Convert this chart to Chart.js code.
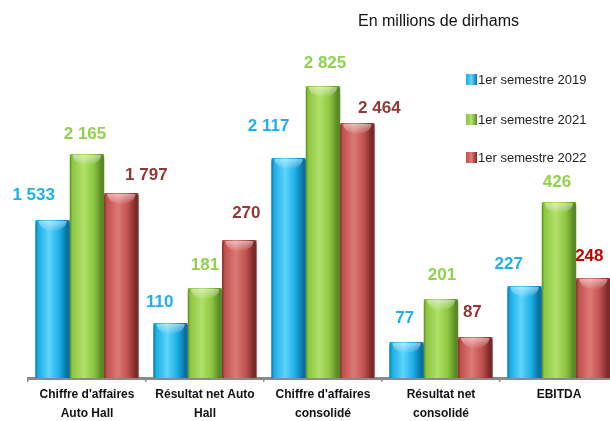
<!DOCTYPE html>
<html>
<head>
    <title>Auto Hall - chiffres clés</title>
    <script src="https://cdn.jsdelivr.net/npm/chart.js"></script>
    <style>
        html, body {
            margin: 0;
            padding: 0;
            background: #ffffff;
            overflow: hidden;
            width: 610px;
            height: 421px;
        }
        #wrap {
            position: relative;
            width: 630px;
            height: 421px;
        }
    </style>
</head>
<body>
    <div id="wrap"><canvas id="chart" width="630" height="421"></canvas></div>

    <script>
        const categories = [
            ["Chiffre d'affaires", "Auto Hall"],
            ["Résultat net Auto", "Hall"],
            ["Chiffre d'affaires", "consolidé"],
            ["Résultat net", "consolidé"],
            ["EBITDA"]
        ];
        const seriesNames = ['1er semestre 2019', '1er semestre 2021', '1er semestre 2022'];
        const values2019 = [1533, 110, 2117, 77, 227];
        const values2021 = [2165, 181, 2825, 201, 426];
        const values2022 = [1797, 270, 2464, 87, 248];
        // bar heights as drawn in the picture (the source does not use one common scale)
        const heights2019 = [158, 55, 220, 36, 92];
        const heights2021 = [224, 90, 292, 79, 176];
        const heights2022 = [185, 138, 255, 41, 100];

        const values = [values2019, values2021, values2022];

        const palette = [
            { dark: '#0a6f9e', base: '#19ade6', light: '#5fd4fa' },
            { dark: '#5a8a27', base: '#8cc63f', light: '#b0e06a' },
            { dark: '#7a2a28', base: '#c0504d', light: '#dc7a76' }
        ];
        const labelColors = ['#1db0ea', '#92d050', '#953735'];

        // hand-placed label nudges relative to the top centre of each bar
        const nudges = [
            [[-19, -25], [-11, -21], [-20, -32], [-2, -24], [-16, -22]],
            [[-2, -20], [0, -23], [2, -23], [1, -24], [-2, -20]],
            [[25, -18], [7, -27], [22, -15], [-3, -25], [-4, -22]]
        ];

        function fmt(v) {
            return String(v).replace(/\B(?=(\d{3})+(?!\d))/g, ' ');
        }

        const barStyle = {
            id: 'barStyle',
            afterDatasetsDraw(chart) {
                const ctx = chart.ctx;
                ctx.save();
                chart.data.datasets.forEach((ds, i) => {
                    const c = palette[i];
                    chart.getDatasetMeta(i).data.forEach((bar, j) => {
                        const l = bar.x - bar.width / 2;
                        const r = bar.x + bar.width / 2;
                        const t = bar.y;
                        const b = bar.base;
                        const w = r - l;
                        // body
                        const g = ctx.createLinearGradient(l, 0, r, 0);
                        g.addColorStop(0, c.dark);
                        g.addColorStop(0.07, c.base);
                        g.addColorStop(0.4, c.light);
                        g.addColorStop(0.7, c.base);
                        g.addColorStop(0.92, c.dark);
                        g.addColorStop(1, c.dark);
                        ctx.fillStyle = g;
                        ctx.beginPath();
                        ctx.roundRect(l, t, w, b - t, [4, 4, 0, 0]);
                        ctx.fill();
                        // top cap
                        const cap = ctx.createLinearGradient(0, t, 0, t + 12);
                        cap.addColorStop(0, 'rgba(255,255,255,0.55)');
                        cap.addColorStop(1, 'rgba(255,255,255,0)');
                        ctx.fillStyle = cap;
                        ctx.beginPath();
                        ctx.moveTo(l + 3, t + 1);
                        ctx.lineTo(r - 3, t + 1);
                        ctx.quadraticCurveTo(r - 4, t + 10, bar.x, t + 11);
                        ctx.quadraticCurveTo(l + 4, t + 10, l + 3, t + 1);
                        ctx.fill();
                    });
                });
                ctx.restore();
            }
        };

        const labelsAndLegend = {
            id: 'labelsAndLegend',
            afterDraw(chart) {
                const ctx = chart.ctx;
                ctx.save();
                // value labels
                ctx.font = 'bold 17px "Liberation Sans", Arial, sans-serif';
                ctx.textAlign = 'center';
                ctx.textBaseline = 'middle';
                chart.data.datasets.forEach((ds, i) => {
                    chart.getDatasetMeta(i).data.forEach((bar, j) => {
                        const n = nudges[i][j];
                        let col = labelColors[i];
                        if (i === 2 && j === 4) col = '#c00000';
                        ctx.fillStyle = col;
                        ctx.fillText(fmt(values[i][j]), bar.x + n[0], bar.y + n[1]);
                    });
                });
                // unit note
                ctx.fillStyle = '#111';
                ctx.font = '16px "Liberation Sans", Arial, sans-serif';
                ctx.textAlign = 'left';
                ctx.fillText('En millions de dirhams', 358, 22);
                // legend
                ctx.font = '13px "Liberation Sans", Arial, sans-serif';
                const ys = [79, 119, 157];
                seriesNames.forEach((name, i) => {
                    const c = palette[i];
                    const g = ctx.createLinearGradient(466, 0, 477, 0);
                    g.addColorStop(0, c.base);
                    g.addColorStop(0.5, c.light);
                    g.addColorStop(1, c.dark);
                    ctx.fillStyle = g;
                    ctx.fillRect(466, ys[i] - 5, 11, 11);
                    ctx.fillStyle = '#222';
                    ctx.fillText(name, 478, ys[i] + 1);
                });
                ctx.restore();
            }
        };

        const ctx = document.getElementById('chart').getContext('2d');

        new Chart(ctx, {
            type: 'bar',
            data: {
                labels: categories,
                datasets: [
                    { label: seriesNames[0], data: heights2019, backgroundColor: palette[0].base },
                    { label: seriesNames[1], data: heights2021, backgroundColor: palette[1].base },
                    { label: seriesNames[2], data: heights2022, backgroundColor: palette[2].base }
                ]
            },
            plugins: [barStyle, labelsAndLegend],
            options: {
                responsive: false,
                animation: false,
                events: [],
                categoryPercentage: 0.873,
                barPercentage: 1,
                layout: {
                    padding: { left: 28, right: 12, top: 78, bottom: 0 }
                },
                plugins: {
                    legend: { display: false },
                    tooltip: { enabled: false }
                },
                scales: {
                    x: {
                        z: 1,
                        afterFit: s => { s.height = 43; },
                        border: { display: true, color: '#8a8a8a', width: 3 },
                        grid: {
                            display: true,
                            offset: true,
                            drawOnChartArea: false,
                            drawTicks: true,
                            tickLength: 4,
                            color: '#8a8a8a',
                            lineWidth: 1.5
                        },
                        ticks: {
                            color: '#111',
                            padding: 3,
                            maxRotation: 0,
                            autoSkip: false,
                            font: { family: '"Liberation Sans", Arial, sans-serif', size: 12, weight: 'bold', lineHeight: 1.6 }
                        }
                    },
                    y: {
                        display: false,
                        min: 0,
                        max: 300
                    }
                }
            }
        });
    </script>
</body>
</html>
